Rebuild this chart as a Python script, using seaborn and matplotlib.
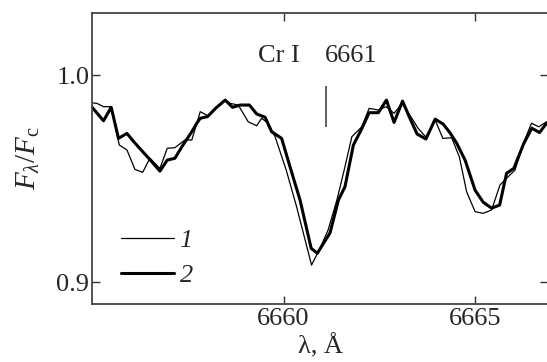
import numpy as np
import pandas as pd
import matplotlib
matplotlib.use("Agg")
import matplotlib.pyplot as plt
import seaborn as sns

# --- data -------------------------------------------------------------
wl_thin = [6655.00, 6655.14, 6655.31, 6655.51, 6655.72, 6655.92, 6656.13, 6656.33,
           6656.52, 6656.78, 6656.97, 6657.17, 6657.43, 6657.61, 6657.83, 6658.04,
           6658.24, 6658.48, 6658.61, 6658.82, 6659.08, 6659.30, 6659.43, 6659.60,
           6659.78, 6660.07, 6660.34, 6660.73, 6660.95, 6661.16, 6661.39, 6661.58,
           6661.78, 6662.04, 6662.23, 6662.47, 6662.67, 6662.88, 6663.09, 6663.29,
           6663.50, 6663.71, 6663.95, 6664.15, 6664.38, 6664.58, 6664.77, 6664.99,
           6665.20, 6665.42, 6665.64, 6665.81, 6666.03, 6666.26, 6666.46, 6666.65,
           6666.85]
flux_thin = [0.9866, 0.9863, 0.9847, 0.9847, 0.9662, 0.9638, 0.9544, 0.9530,
             0.9598, 0.9549, 0.9646, 0.9649, 0.9686, 0.9686, 0.9823, 0.9802,
             0.9841, 0.9879, 0.9863, 0.9855, 0.9774, 0.9755, 0.9791, 0.9767,
             0.9702, 0.9541, 0.9364, 0.9082, 0.9163, 0.9251, 0.9396, 0.9541,
             0.9702, 0.9750, 0.9839, 0.9831, 0.9847, 0.9815, 0.9863, 0.9807,
             0.9744, 0.9700, 0.9783, 0.9694, 0.9697, 0.9605, 0.9436, 0.9340,
             0.9332, 0.9348, 0.9469, 0.9501, 0.9541, 0.9676, 0.9767, 0.9750,
             0.9774]

wl_thick = [6655.00, 6655.31, 6655.51, 6655.70, 6655.92, 6656.13, 6656.34, 6656.55,
            6656.78, 6656.97, 6657.17, 6657.38, 6657.61, 6657.74, 6657.83, 6658.02,
            6658.24, 6658.48, 6658.67, 6658.87, 6659.11, 6659.30, 6659.52, 6659.69,
            6659.95, 6660.17, 6660.43, 6660.72, 6660.88, 6661.21, 6661.43, 6661.60,
            6661.82, 6662.02, 6662.23, 6662.47, 6662.68, 6662.88, 6663.10, 6663.29,
            6663.48, 6663.71, 6663.95, 6664.16, 6664.34, 6664.51, 6664.73, 6664.99,
            6665.20, 6665.42, 6665.63, 6665.81, 6666.00, 6666.26, 6666.47, 6666.67,
            6666.85]
flux_thick = [0.9847, 0.9779, 0.9844, 0.9694, 0.9718, 0.9671, 0.9628, 0.9585,
              0.9536, 0.9589, 0.9598, 0.9662, 0.9726, 0.9767, 0.9791, 0.9799,
              0.9841, 0.9879, 0.9844, 0.9855, 0.9855, 0.9812, 0.9796, 0.9726,
              0.9694, 0.9556, 0.9396, 0.9163, 0.9139, 0.9237, 0.9396, 0.9460,
              0.9662, 0.9734, 0.9818, 0.9818, 0.9879, 0.9771, 0.9874, 0.9792,
              0.9715, 0.9691, 0.9787, 0.9763, 0.9720, 0.9671, 0.9589, 0.9444,
              0.9386, 0.9357, 0.9372, 0.9525, 0.9549, 0.9670, 0.9743, 0.9722,
              0.9767]

series_labels = ["1", "2"]
line_label = ["Cr I", "6661"]
line_wl = 6661.1
line_mark = [0.9749, 0.9947]
x_ticks = [6660, 6665]
y_ticks = [0.9, 1.0]
y_tick_labels = ["0.9", "1.0"]

# --- style -------------------------------------------------------------
sns.set_style("ticks")
plt.rcParams["font.family"] = ["Liberation Serif", "DejaVu Serif"]
plt.rcParams["mathtext.fontset"] = "custom"
plt.rcParams["mathtext.rm"] = "Liberation Serif"
plt.rcParams["mathtext.it"] = "Liberation Serif:italic"

FS = 19

fig = plt.figure(figsize=(5.47, 3.62), dpi=100)
ax = fig.add_axes([92 / 547, 58 / 362, 456 / 547, 291.5 / 362])

df_thin = pd.DataFrame({"wl": wl_thin, "flux": flux_thin})
df_thick = pd.DataFrame({"wl": wl_thick, "flux": flux_thick})

sns.lineplot(data=df_thin, x="wl", y="flux", sort=False, color="black",
             linewidth=0.9, ax=ax, label=series_labels[0])
sns.lineplot(data=df_thick, x="wl", y="flux", sort=False, color="black",
             linewidth=2.2, ax=ax, label=series_labels[1])

ax.vlines(line_wl, line_mark[0], line_mark[1], color="#444444", linewidth=1.2)
ax.text(6660.43, 1.0065, line_label[0], fontsize=FS, ha="right", va="baseline")
ax.text(6661.07, 1.0065, line_label[1], fontsize=FS, ha="left", va="baseline")

ax.set_xlim(6655.01, 6666.89)
ax.set_ylim(0.8894, 1.0302)
ax.set_xticks(x_ticks)
ax.set_yticks(y_ticks)
ax.set_yticklabels(y_tick_labels)
ax.tick_params(direction="in", top=True, right=True, length=6, width=1.0,
               labelsize=FS, pad=3, color="#333333")
ax.tick_params(axis="y", pad=2)

for sp in ax.spines.values():
    sp.set_linewidth(1.3)
    sp.set_color("#444444")

ax.set_xlabel("λ, Å", fontsize=FS, labelpad=3)
ax.set_ylabel(r"$F_\lambda/F_{\rm c}$", fontsize=21, labelpad=10)

leg = ax.legend(loc="lower left", bbox_to_anchor=(0.023, -0.005), frameon=False,
                handlelength=2.0, handletextpad=0.22, labelspacing=0.42,
                borderpad=0.2,
                prop={"family": "Liberation Serif", "style": "italic", "size": FS})

fig.savefig("out.png", dpi=100)
